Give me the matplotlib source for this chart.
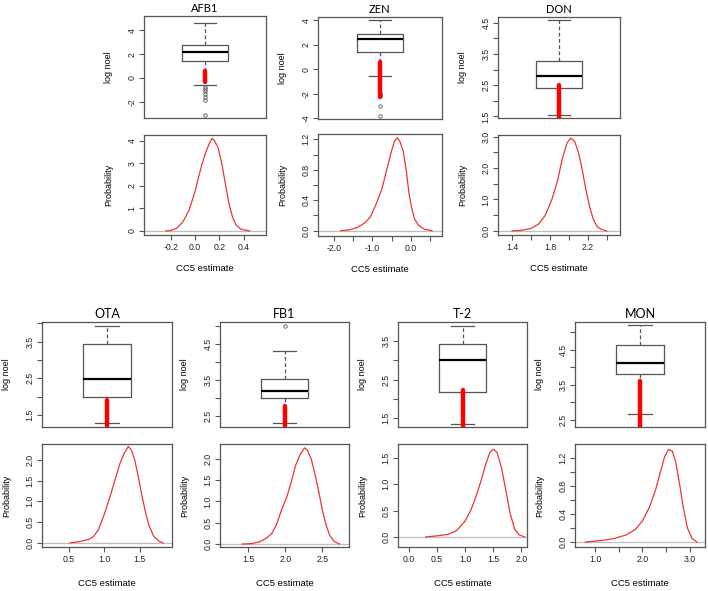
import matplotlib
matplotlib.use("Agg")
import matplotlib.pyplot as plt

plt.rcParams['font.family'] = ['Liberation Sans', 'DejaVu Sans']

# --- data ---
toxins = ["AFB1", "ZEN", "DON", "OTA", "FB1", "T-2", "MON"]

# boxplots of log noel
box_q1 = [1.39, 1.37, 2.40, 1.99, 2.99, 2.18, 3.81]
box_med = [2.14, 2.43, 2.80, 2.48, 3.21, 3.00, 4.12]
box_q3 = [2.75, 2.88, 3.28, 3.44, 3.52, 3.41, 4.64]
whisk_lo = [-0.56, -0.59, 1.55, 1.29, 2.31, 1.36, 2.66]
whisk_hi = [4.58, 4.00, 4.59, 3.91, 4.30, 3.89, 5.20]
outliers = [[-0.72, -0.92, -1.11, -1.33, -1.61, -1.81, -3.08],
            [-1.9, -2.1, -2.2, -3.02, -3.78],
            [], [], [4.99], [], []]
# observed points drawn in red (low, high)
red_lo = [-0.36, -2.24, 1.45, 1.18, 2.20, 1.27, 2.29]
red_hi = [0.55, 0.62, 2.50, 1.92, 2.78, 2.24, 3.60]

# density of CC5 estimate
dens_x = [
    [-0.24, -0.20, -0.15, -0.10, -0.05, 0.00, 0.03, 0.06, 0.09, 0.12, 0.14, 0.16,
     0.19, 0.22, 0.25, 0.28, 0.31, 0.34, 0.38, 0.45],
    [-1.82, -1.6, -1.4, -1.2, -1.05, -0.9, -0.75, -0.6, -0.5, -0.42, -0.35, -0.28,
     -0.2, -0.12, -0.05, 0.02, 0.1, 0.2, 0.35, 0.55],
    [1.40, 1.50, 1.60, 1.68, 1.75, 1.82, 1.88, 1.93, 1.98, 2.02, 2.06, 2.10, 2.14,
     2.18, 2.22, 2.26, 2.30, 2.35, 2.40],
    [0.52, 0.62, 0.70, 0.78, 0.85, 0.92, 1.00, 1.08, 1.15, 1.22, 1.28, 1.34, 1.38,
     1.43, 1.48, 1.53, 1.58, 1.63, 1.70, 1.78, 1.83],
    [1.42, 1.55, 1.65, 1.75, 1.82, 1.88, 1.95, 2.02, 2.08, 2.14, 2.20, 2.26, 2.30,
     2.35, 2.40, 2.45, 2.50, 2.55, 2.60, 2.66, 2.73],
    [0.3, 0.5, 0.7, 0.85, 1.0, 1.1, 1.2, 1.28, 1.36, 1.44, 1.5, 1.57, 1.65, 1.73,
     1.8, 1.88, 1.96, 2.06],
    [0.8, 1.1, 1.4, 1.65, 1.85, 2.0, 2.15, 2.28, 2.38, 2.47, 2.55, 2.63, 2.7, 2.78,
     2.86, 2.95, 3.05, 3.15],
]
dens_y = [
    [0.0, 0.02, 0.12, 0.4, 0.9, 1.74, 2.4, 3.0, 3.5, 3.9, 4.1, 4.0, 3.7, 3.0, 2.1,
     1.2, 0.6, 0.25, 0.07, 0.0],
    [0.0, 0.01, 0.04, 0.1, 0.18, 0.35, 0.55, 0.85, 1.05, 1.18, 1.22, 1.17, 1.05,
     0.8, 0.5, 0.3, 0.15, 0.07, 0.02, 0.0],
    [0.0, 0.02, 0.08, 0.22, 0.5, 1.0, 1.6, 2.3, 2.8, 2.95, 2.85, 2.5, 1.95, 1.3,
     0.75, 0.35, 0.13, 0.04, 0.0],
    [0.0, 0.02, 0.05, 0.08, 0.15, 0.32, 0.68, 1.1, 1.5, 1.9, 2.15, 2.32, 2.25, 2.0,
     1.6, 1.15, 0.75, 0.42, 0.15, 0.03, 0.0],
    [0.0, 0.01, 0.05, 0.14, 0.25, 0.45, 0.8, 1.1, 1.45, 1.85, 2.1, 2.26, 2.2, 2.0,
     1.65, 1.25, 0.8, 0.45, 0.2, 0.06, 0.0],
    [0.0, 0.02, 0.05, 0.12, 0.3, 0.5, 0.78, 1.05, 1.35, 1.6, 1.66, 1.6, 1.3, 0.85,
     0.45, 0.15, 0.04, 0.0],
    [0.0, 0.02, 0.05, 0.1, 0.18, 0.3, 0.5, 0.75, 1.0, 1.22, 1.32, 1.3, 1.15, 0.85,
     0.5, 0.2, 0.05, 0.0],
]

# axis ticks (empty label = tick without label, as in the original)
box_ticks = [[-2, 0, 2, 4], [-4, -2, 0, 2, 4],
             [1.5, 2.0, 2.5, 3.0, 3.5, 4.0, 4.5], [1.5, 2.0, 2.5, 3.0, 3.5, 4.0],
             [2.5, 3.0, 3.5, 4.0, 4.5, 5.0], [1.5, 2.0, 2.5, 3.0, 3.5],
             [2.5, 3.0, 3.5, 4.0, 4.5, 5.0]]
box_labels = [["-2", "0", "2", "4"], ["-4", "-2", "0", "2", "4"],
              ["1.5", "", "2.5", "", "3.5", "", "4.5"], ["1.5", "", "2.5", "", "3.5", ""],
              ["2.5", "", "3.5", "", "4.5", ""], ["1.5", "", "2.5", "", "3.5"],
              ["2.5", "", "3.5", "", "4.5", ""]]
box_ylim = [(-3.36, 5.2), (-4.05, 4.25), (1.45, 4.68), (1.18, 4.03), (2.2, 5.11),
            (1.27, 3.99), (2.29, 5.30)]
dx_ticks = [[-0.2, 0.0, 0.2, 0.4], [-2.0, -1.5, -1.0, -0.5, 0.0, 0.5],
            [1.4, 1.6, 1.8, 2.0, 2.2, 2.4], [0.5, 1.0, 1.5], [1.5, 2.0, 2.5],
            [0.0, 0.5, 1.0, 1.5, 2.0], [1.0, 1.5, 2.0, 2.5, 3.0]]
dx_labels = [["-0.2", "0.0", "0.2", "0.4"], ["-2.0", "", "-1.0", "", "0.0", ""],
             ["1.4", "", "1.8", "", "2.2", ""], ["0.5", "1.0", "1.5"],
             ["1.5", "2.0", "2.5"], ["0.0", "0.5", "1.0", "1.5", "2.0"],
             ["1.0", "", "2.0", "", "3.0"]]
dx_lim = [(-0.42, 0.585), (-2.41, 0.81), (1.25, 2.54), (0.125, 1.955), (1.12, 2.86),
          (-0.19, 2.1), (0.58, 3.32)]
dy_ticks = [[0, 1, 2, 3, 4], [0.0, 0.2, 0.4, 0.6, 0.8, 1.0, 1.2],
            [0.0, 0.5, 1.0, 1.5, 2.0, 2.5, 3.0], [0.0, 0.5, 1.0, 1.5, 2.0],
            [0.0, 0.5, 1.0, 1.5, 2.0], [0.0, 0.5, 1.0, 1.5],
            [0.0, 0.2, 0.4, 0.6, 0.8, 1.0, 1.2]]
dy_labels = [["0", "1", "2", "3", "4"], ["0.0", "", "0.4", "", "0.8", "", "1.2"],
             ["0.0", "", "1.0", "", "2.0", "", "3.0"],
             ["0.0", "0.5", "1.0", "1.5", "2.0"], ["0.0", "0.5", "1.0", "1.5", "2.0"],
             ["0.0", "0.5", "1.0", "1.5"], ["0.0", "", "0.4", "", "0.8", "", "1.2"]]
dy_lim = [(-0.18, 4.25), (-0.07, 1.27), (-0.13, 3.05), (-0.1, 2.38), (-0.07, 2.35),
          (-0.19, 1.76), (-0.07, 1.40)]

# --- layout in pixels: (left, right, box top, box bottom, dens top, dens bottom) ---
W, H = 708, 591
layout = [(144, 266, 16, 118, 135, 235), (318, 442, 17, 119, 134, 236),
          (498, 620, 17, 118, 135, 235),
          (42, 172, 322, 427, 444, 547), (220, 349, 322, 427, 444, 547),
          (398, 527, 322, 427, 444, 547), (575, 705, 322, 427, 444, 547)]

fig = plt.figure(figsize=(W / 100, H / 100), dpi=100)
frame_col = "#555555"


def add_px_axes(left, right, top, bottom):
    return fig.add_axes([left / W, 1 - bottom / H, (right - left) / W, (bottom - top) / H])


def style(ax, w_px):
    for s in ax.spines.values():
        s.set_color(frame_col)
        s.set_linewidth(0.9)
    ax.tick_params(colors=frame_col, labelcolor="#222222", labelsize=6.3, length=3.5,
                   width=0.8, pad=2)
    ax.tick_params(axis="y", labelrotation=90)
    for t in ax.get_yticklabels():
        t.set_va("center")
    ax.yaxis.set_label_coords(-31 / w_px, 0.5)


for i, name in enumerate(toxins):
    left, right, bt, bb, dt, db = layout[i]
    w_px = right - left
    bottom_row = i >= 3

    # boxplot panel
    ax = add_px_axes(left, right, bt, bb)
    stats = [dict(med=box_med[i], q1=box_q1[i], q3=box_q3[i], whislo=whisk_lo[i],
                  whishi=whisk_hi[i], fliers=outliers[i])]
    ax.bxp(stats, positions=[1], widths=0.4, showfliers=True,
           boxprops=dict(color=frame_col, linewidth=0.9),
           medianprops=dict(color="black", linewidth=1.6),
           whiskerprops=dict(color=frame_col, linewidth=0.9, linestyle=(0, (3, 2))),
           capprops=dict(color=frame_col, linewidth=0.9),
           flierprops=dict(marker="o", markerfacecolor="none", markeredgecolor=frame_col,
                           markersize=2.5, markeredgewidth=0.6))
    ax.plot([1, 1], [red_lo[i], red_hi[i]], color="red", linewidth=3.2,
            solid_capstyle="round", zorder=5)
    ax.set_xlim(0.46, 1.54)
    ax.set_ylim(*box_ylim[i])
    ax.set_xticks([])
    ax.set_yticks(box_ticks[i])
    ax.set_yticklabels(box_labels[i])
    ax.set_ylabel("log noel", fontsize=6.5)
    ax.set_title(name, fontsize=9 if bottom_row else 8, family=["Lato", "DejaVu Sans"],
                 pad=3)
    style(ax, w_px)

    # density panel
    ax = add_px_axes(left, right, dt, db)
    ax.axhline(0, color="#bebebe", linewidth=0.9, zorder=1)
    ax.plot(dens_x[i], dens_y[i], color="#ee3333", linewidth=0.9, zorder=2)
    ax.set_xlim(*dx_lim[i])
    ax.set_ylim(*dy_lim[i])
    ax.set_xticks(dx_ticks[i])
    ax.set_xticklabels(dx_labels[i])
    ax.set_yticks(dy_ticks[i])
    ax.set_yticklabels(dy_labels[i])
    ax.set_ylabel("Probability", fontsize=6.5)
    ax.set_xlabel("CC5 estimate", fontsize=6.8, labelpad=11 if bottom_row else 9)
    style(ax, w_px)

fig.savefig("out.png", dpi=100, facecolor="white")
